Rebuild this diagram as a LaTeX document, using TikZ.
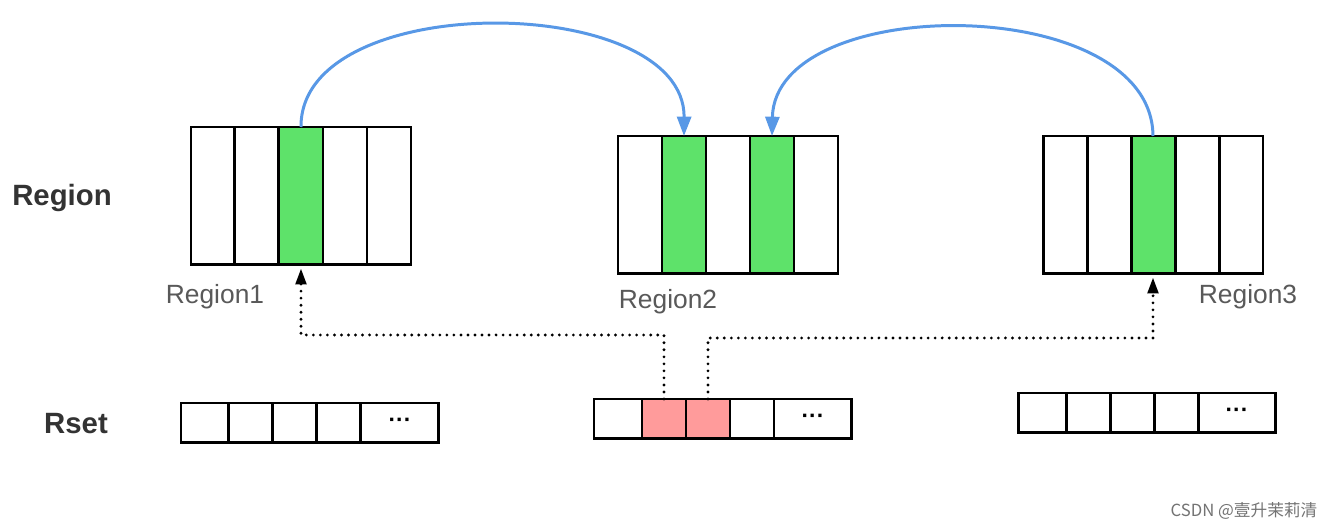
\documentclass[tikz,border=0pt]{standalone}
\usepackage{fontspec}
\setmainfont{Liberation Sans}
\newfontfamily\cjk{Noto Sans CJK SC}
\usetikzlibrary{arrows.meta,calc}
\definecolor{cellgreen}{RGB}{94,226,106}
\definecolor{cellpink}{RGB}{255,155,155}
\definecolor{jumpblue}{RGB}{88,152,230}
\tikzset{
  regcell/.style={draw,line width=1.7pt,anchor=north west,minimum width=0.88cm,minimum height=2.76cm,inner sep=0,outer sep=0},
  setcell/.style={draw,line width=1.7pt,anchor=north west,minimum height=0.8cm,inner sep=0,outer sep=0,font=\bfseries\fontsize{13}{13}\selectfont},
  jump/.style={jumpblue,line width=1.7pt,-{Triangle[length=11pt,width=8pt]}},
  ref/.style={line width=1.8pt,line cap=round,dash pattern=on 0pt off 4pt,shorten >=2pt,-{Triangle[length=9pt,width=6pt]}},
  rowlab/.style={font=\bfseries\fontsize{16.7}{18}\selectfont,text=black!80},
  reglab/.style={font=\fontsize{15}{17}\selectfont,text=black!65}
}
\begin{document}
\begin{tikzpicture}[x=0.02cm,y=-0.02cm]
\path[use as bounding box,fill=white] (0,0) rectangle (1330,530);
\node[rowlab] (regrow) at (62,198) {Region};
\node[rowlab] (setrow) at (76,424) {Rset};
\foreach \i/\f in {1/white,2/white,3/cellgreen,4/white,5/white}
  \node[regcell,fill=\f] (ra\i) at ({191+44*(\i-1)},127) {};
\foreach \i/\f in {1/white,2/cellgreen,3/white,4/cellgreen,5/white}
  \node[regcell,fill=\f] (rb\i) at ({618+44*(\i-1)},136) {};
\foreach \i/\f in {1/white,2/white,3/cellgreen,4/white,5/white}
  \node[regcell,fill=\f] (rc\i) at ({1043+44*(\i-1)},136) {};
\node[reglab] (laba) at (215,297) {Region1};
\node[reglab] (labb) at (668,302) {Region2};
\node[reglab] (labc) at (1248,297) {Region3};
\foreach \i/\x/\w in {1/0/48,2/48/44,3/92/44,4/136/44}{
  \node[setcell,minimum width=\w*0.2mm] (sa\i) at (181+\x,403) {};
  \node[setcell,minimum width=\w*0.2mm] (sc\i) at (1018+\x,393) {};
}
\foreach \i/\x/\w/\f in {1/0/48/white,2/48/44/cellpink,3/92/44/cellpink,4/136/44/white}
  \node[setcell,minimum width=\w*0.2mm,fill=\f] (sb\i) at (594+\x,399) {};
\node[setcell,minimum width=78*0.2mm] (sa5) at (361,403) {···};
\node[setcell,minimum width=78*0.2mm] (sb5) at (774,399) {···};
\node[setcell,minimum width=78*0.2mm] (sc5) at (1198,393) {···};
\draw[jump] (ra3.north) .. controls (300,-12) and (685,-8) .. (rb2.north);
\draw[jump] (rc3.north) .. controls (1152,-8) and (775,-8) .. (rb4.north);
\coordinate (bendl) at (0,335);
\coordinate (bendr) at (0,338);
\draw[ref] (sb2.north) -- (sb2.north |- bendl) -| (ra3.south);
\draw[ref] (sb3.north) -- (sb3.north |- bendr) -| (rc3.south);
\node[font=\cjk\fontsize{9.5}{11}\selectfont,text=black!55] (mark) at (1244,511) {CSDN @壹升茉莉清};
\end{tikzpicture}
\end{document}
